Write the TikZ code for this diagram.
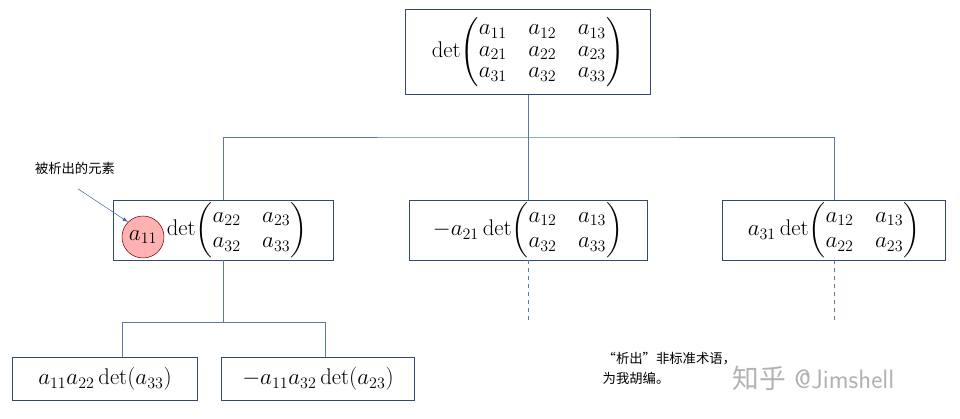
\documentclass[tikz,border=0pt]{standalone}
\usepackage{amsmath}
\usepackage{fontspec}
\newfontfamily\cjk{Noto Sans CJK SC}
\usepackage{tikz}
\usetikzlibrary{positioning, calc}
\definecolor{boxline}{HTML}{2F4A6A}
\definecolor{linkline}{HTML}{5A7A9E}
\tikzstyle{term}=[draw=boxline, fill=white, semithick, inner sep=1pt, font=\fontsize{17}{19}\selectfont]
\tikzstyle{link}=[draw=linkline, semithick]
\tikzstyle{arrow}=[->, >=latex, draw=linkline!80!blue]
\setlength{\arraycolsep}{8pt}
\begin{document}
\begin{tikzpicture}[x=0.75pt, y=-0.75pt]
  \useasboundingbox (0,0) rectangle (960,418);
  % top determinant
  \node [term, minimum width=245*0.75pt, minimum height=85*0.75pt] (top) at (528,52)
    {\renewcommand{\arraystretch}{0.85}$\det\!\begin{pmatrix} a_{11} & a_{12} & a_{13}\\ a_{21} & a_{22} & a_{23}\\ a_{31} & a_{32} & a_{33}\end{pmatrix}$};
  % first expansion
  \node [term, minimum width=220*0.75pt, minimum height=60*0.75pt] (minor-1) at (223,230)
    {\phantom{$a_{11}$}$\det\!\begin{pmatrix} a_{22} & a_{23}\\ a_{32} & a_{33}\end{pmatrix}$};
  \node [term, minimum width=238*0.75pt, minimum height=60*0.75pt] (minor-2) at (528,230)
    {$-a_{21}\det\!\begin{pmatrix} a_{12} & a_{13}\\ a_{32} & a_{33}\end{pmatrix}$};
  \node [term, minimum width=223*0.75pt, minimum height=60*0.75pt] (minor-3) at (834,230)
    {$a_{31}\det\!\begin{pmatrix} a_{12} & a_{13}\\ a_{22} & a_{23}\end{pmatrix}$};
  \node [circle, draw=red!50!black, fill=red!30, minimum size=42*0.75pt, inner sep=0pt,
         font=\fontsize{17}{19}\selectfont] (elem) at (143,237) {$a_{11}$};
  % second expansion
  \node [term, minimum width=185*0.75pt, minimum height=43*0.75pt] (leaf-1) at (105,379)
    {$a_{11}a_{22}\det(a_{33})$};
  \node [term, minimum width=193*0.75pt, minimum height=43*0.75pt] (leaf-2) at (318,379)
    {$-a_{11}a_{32}\det(a_{23})$};

  \coordinate (bus) at (528,137);
  \draw [link] (top) -- (bus);
  \draw [link] (minor-1.north) |- (bus) -| (minor-3.north);
  \draw [link] (bus) -- (minor-2);
  \draw [link, dashed] (minor-2.south) -- ++(0,62);
  \draw [link, dashed] (minor-3.south) -- ++(0,62);
  \draw [link] (minor-1.south) -- ++(0,62) coordinate (split);
  \draw [link] (leaf-1.north -| 122,0) |- (split) -| (leaf-2.north -| 325,0);

  % notes
  \node [font=\cjk\fontsize{10}{12}\selectfont] (label) at (75,168) {被析出的元素};
  \draw [arrow] (label.south) ++(3,10) -- (elem.north west);
  \node [font=\cjk\fontsize{10}{15}\selectfont, align=left, anchor=west] (note) at (598,368)
    {“析出”非标准术语，\\为我胡编。};
  \node [font=\fontsize{20}{22}\selectfont\sffamily, text=black!30, anchor=west] (mark) at (728,378)
    {{\cjk 知乎} @Jimshell};
\end{tikzpicture}
\end{document}
